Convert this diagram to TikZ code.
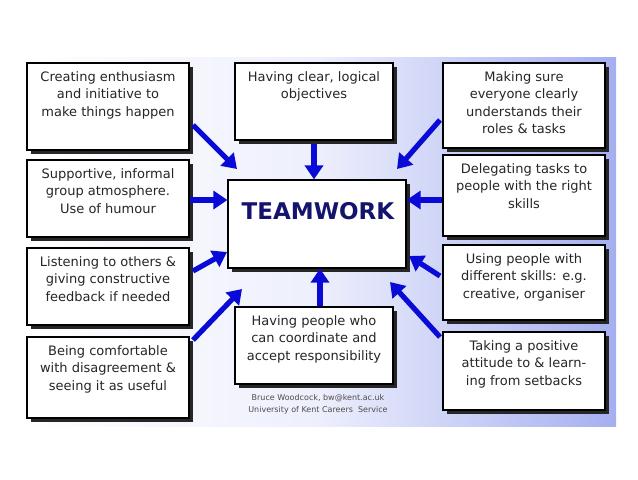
\documentclass[tikz,border=0pt]{standalone}
\usepackage{fontspec}
\setmainfont{DejaVu Sans}
\usetikzlibrary{arrows.meta,shadows}
\definecolor{arrblue}{RGB}{10,10,215}
\definecolor{navy}{RGB}{20,20,110}
\definecolor{bgblue}{RGB}{165,175,240}
\begin{document}
\begin{tikzpicture}[x=0.5pt,y=-0.5pt,
  box/.style={draw=black,line width=0.6pt,fill=white,inner sep=0pt,
    drop shadow={shadow xshift=2.2pt,shadow yshift=-2.2pt,fill=black!85,opacity=1}},
  txt/.style={anchor=north,align=center,inner sep=0pt,font=\fontsize{6.5pt}{8.6pt}\selectfont,text=black!85},
  arr/.style={draw=arrblue,line width=2.6pt,-{Triangle[length=7pt,width=9pt]}}]
\useasboundingbox (0,0) rectangle (638,479);
\fill[white] (0,0) rectangle (638,479);
\shade[left color=white,right color=bgblue,middle color=white!80!bgblue] (22,57) rectangle (616,426);
% boxes
\node[box,minimum width=81pt,minimum height=43.5pt] (b1) at (108,106.5) {};
\node[box,minimum width=81pt,minimum height=38.5pt] (b2) at (108,198.5) {};
\node[box,minimum width=81pt,minimum height=38.5pt] (b3) at (108,286.5) {};
\node[box,minimum width=81pt,minimum height=40.5pt] (b4) at (108,377.5) {};
\node[box,minimum width=79pt,minimum height=38.5pt] (t) at (314,101.5) {};
\node[box,minimum width=89pt,minimum height=44pt] (c) at (317,224) {};
\node[box,minimum width=79pt,minimum height=38.5pt] (bm) at (314,345.5) {};
\node[box,minimum width=81pt,minimum height=42.5pt] (r1) at (524,105.5) {};
\node[box,minimum width=81pt,minimum height=40.5pt] (r2) at (524,195.5) {};
\node[box,minimum width=81pt,minimum height=37.5pt] (r3) at (524,282.5) {};
\node[box,minimum width=81pt,minimum height=39pt] (r4) at (524,371) {};
% texts
\node[txt] (tb1) at ([yshift=-4.5pt]b1.north) {Creating enthusiasm\\and initiative to\\make things happen};
\node[txt] (tb2) at ([yshift=-4.5pt]b2.north) {Supportive, informal\\group atmosphere.\\Use of humour};
\node[txt] (tb3) at ([yshift=-4.5pt]b3.north) {Listening to others \&\\giving constructive\\feedback if needed};
\node[txt] (tb4) at ([yshift=-4.5pt]b4.north) {Being comfortable\\with disagreement \&\\seeing it as useful};
\node[txt] (tt) at ([yshift=-4.5pt]t.north) {Having clear, logical\\objectives};
\node[txt] (tbm) at ([yshift=-4.5pt]bm.north) {Having people who\\can coordinate and\\accept responsibility};
\node[txt] (tr1) at ([yshift=-4.5pt]r1.north) {Making sure\\everyone clearly\\understands their\\roles \& tasks};
\node[txt] (tr2) at ([yshift=-4.5pt]r2.north) {Delegating tasks to\\people with the right\\skills};
\node[txt] (tr3) at ([yshift=-4.5pt]r3.north) {Using people with\\different skills: e.g.\\creative, organiser};
\node[txt] (tr4) at ([yshift=-4.5pt]r4.north) {Taking a positive\\attitude to \& learn-\\ing from setbacks};
\node[font=\bfseries\fontsize{11.5pt}{12pt}\selectfont,text=navy,inner sep=0pt] (tc) at (318,211) {TEAMWORK};
\node[align=center,inner sep=0pt,font=\fontsize{4pt}{6pt}\selectfont,text=black!70] (cr) at (318,404) {Bruce Woodcock, bw@kent.ac.uk\\University of Kent Careers\ \ Service};
% arrows
\coordinate (a1s) at (193,125); \coordinate (a1e) at (237,169);
\draw[arr] (a1s) -- (a1e);
\draw[arr] (t.south |- 0,144) -- (c.north -| t.south);
\coordinate (a3s) at (440,120); \coordinate (a3e) at (397,169);
\draw[arr] (a3s) -- (a3e);
\draw[arr] (b2.east |- 0,200) -- (c.west |- 0,200);
\draw[arr] (r2.west |- 0,200) -- (c.east |- 0,200);
\coordinate (a6s) at (193,271); \coordinate (a6e) at (227,252);
\draw[arr] (a6s) -- (a6e);
\coordinate (a7s) at (440,276); \coordinate (a7e) at (409,256);
\draw[arr] (a7s) -- (a7e);
\coordinate (a8s) at (193,340); \coordinate (a8e) at (242,289);
\draw[arr] (a8s) -- (a8e);
\draw[arr] (bm.north -| 320,0) -- (c.south -| 320,0);
\coordinate (a10s) at (440,337); \coordinate (a10e) at (390,282);
\draw[arr] (a10s) -- (a10e);
\end{tikzpicture}
\end{document}
